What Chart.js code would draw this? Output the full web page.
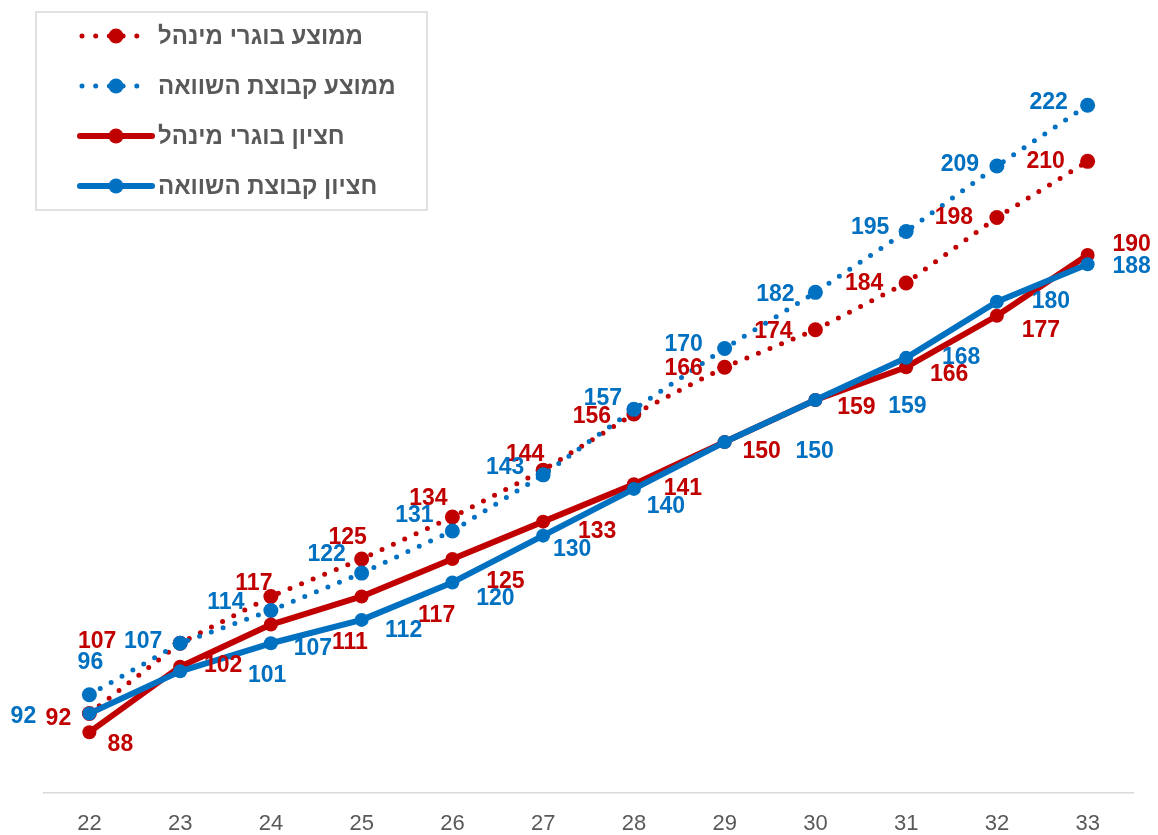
<!DOCTYPE html>
<html>
<head>
<meta charset="utf-8">
<style>
  html, body { margin: 0; padding: 0; background: #fff; }
  #wrap { width: 1158px; height: 835px; position: relative; }
</style>
</head>
<body>
<div id="wrap"><canvas id="salaryChart" width="1158" height="835"></canvas></div>

<script src="https://cdn.jsdelivr.net/npm/chart.js"></script>
<script>
    // גיל / שנים
    const ages = ['22', '23', '24', '25', '26', '27', '28', '29', '30', '31', '32', '33'];

    const avgGrads = [92, 107, 117, 125, 134, 144, 156, 166, 174, 184, 198, 210];   // ממוצע בוגרי מינהל
    const avgCompare = [96, 107, 114, 122, 131, 143, 157, 170, 182, 195, 209, 222]; // ממוצע קבוצת השוואה
    const medGrads = [88, 102, 111, 117, 125, 133, 141, 150, 159, 166, 177, 190];   // חציון בוגרי מינהל
    const medCompare = [92, 101, 107, 112, 120, 130, 140, 150, 159, 168, 180, 188]; // חציון קבוצת השוואה

    const seriesNames = ['ממוצע בוגרי מינהל', 'ממוצע קבוצת השוואה', 'חציון בוגרי מינהל', 'חציון קבוצת השוואה'];

    const RED = '#C00000';
    const BLUE = '#0070C0';
    const GRAY = '#595959';

    // הזזת התוויות ביחס לנקודה (פיקסלים), כדי שלא יעלו אחת על השנייה
    const labelShift = [
        [[-31, 5], [-83, -2], [-17, -13], [-14, -21], [-24, -18], [-18, -16], [-42, 3], [-41, 1], [-42, 2], [-42, 1], [-43, 0], [-42, 0]],
        [[1, -32], [-37, -2], [-45, -8], [-35, -18], [-38, -15], [-38, -7], [-31, -11], [-41, -4], [-40, 2], [-36, -4], [-37, -1], [-39, -3]],
        [[31, 12], [43, -1], [79, 18], [75, 19], [53, 23], [54, 10], [49, 4], [37, 10], [41, 8], [43, 7], [44, 15], [44, -10]],
        [[-66, 3], [87, 4], [42, 5], [42, 11], [43, 16], [29, 14], [32, 18], [90, 10], [92, 7], [55, 0], [54, 0], [44, 2]]
    ];

    const valueLabels = {
        id: 'valueLabels',
        afterDatasetsDraw(chart) {
            const ctx = chart.ctx;
            ctx.save();
            ctx.font = 'bold 23px "Liberation Sans", Arial, sans-serif';
            ctx.textAlign = 'center';
            ctx.textBaseline = 'middle';
            chart.data.datasets.forEach((ds, i) => {
                const meta = chart.getDatasetMeta(i);
                ctx.fillStyle = ds.borderColor;
                meta.data.forEach((pt, j) => {
                    const s = labelShift[i][j];
                    ctx.fillText(String(ds.data[j]), pt.x + s[0], pt.y + s[1]);
                });
            });
            ctx.restore();
        }
    };

    // מקרא בצד שמאל למעלה
    const boxLegend = {
        id: 'boxLegend',
        afterDraw(chart) {
            const ctx = chart.ctx;
            ctx.save();
            ctx.fillStyle = '#fff';
            ctx.fillRect(36, 12, 391, 198);
            ctx.strokeStyle = '#d9d9d9';
            ctx.lineWidth = 1.5;
            ctx.strokeRect(36, 12, 391, 198);

            chart.data.datasets.forEach((ds, i) => {
                const y = 36 + i * 50;
                const dotted = ds.borderDash && ds.borderDash.length;
                ctx.strokeStyle = ds.borderColor;
                ctx.lineCap = 'round';
                ctx.beginPath();
                if (dotted) {
                    ctx.lineWidth = 5;
                    ctx.setLineDash([0, 13.7]);
                    ctx.moveTo(82, y);
                    ctx.lineTo(138, y);
                } else {
                    ctx.lineWidth = 6;
                    ctx.setLineDash([]);
                    ctx.moveTo(80, y);
                    ctx.lineTo(152, y);
                }
                ctx.stroke();
                ctx.setLineDash([]);
                ctx.fillStyle = ds.borderColor;
                ctx.beginPath();
                ctx.arc(116, y, 7.5, 0, Math.PI * 2);
                ctx.fill();

                ctx.fillStyle = GRAY;
                ctx.font = 'bold 24px "Liberation Sans", Arial, sans-serif';
                ctx.direction = 'rtl';
                ctx.textAlign = 'left';
                ctx.textBaseline = 'middle';
                ctx.fillText(ds.label, 158, y + 1);
            });
            ctx.restore();
        }
    };

    function lineSet(label, data, color, dotted, order) {
        return {
            label: label,
            data: data,
            borderColor: color,
            backgroundColor: color,
            borderWidth: dotted ? 5 : 6,
            borderDash: dotted ? [0, 12.5] : [],
            borderCapStyle: 'round',
            borderJoinStyle: 'round',
            pointRadius: dotted ? 7.5 : 7,
            pointBorderWidth: 0,
            pointBackgroundColor: color,
            tension: 0,
            fill: false,
            order: order
        };
    }

    new Chart(document.getElementById('salaryChart'), {
        type: 'line',
        data: {
            labels: ages,
            datasets: [
                lineSet(seriesNames[0], avgGrads, RED, true, 4),
                lineSet(seriesNames[1], avgCompare, BLUE, true, 3),
                lineSet(seriesNames[2], medGrads, RED, false, 2),
                lineSet(seriesNames[3], medCompare, BLUE, false, 1)
            ]
        },
        options: {
            responsive: false,
            animation: false,
            layout: { padding: { left: 44, right: 25, top: 21, bottom: 0 } },
            plugins: {
                legend: { display: false },
                tooltip: { enabled: false }
            },
            scales: {
                x: {
                    offset: true,
                    grid: { display: false, drawTicks: false },
                    border: { display: true, color: '#d9d9d9', width: 1.5 },
                    ticks: {
                        color: GRAY,
                        padding: 18,
                        font: { family: '"Liberation Sans", Arial, sans-serif', size: 22 }
                    },
                    afterFit(scale) {
                        scale.height = 42;
                    }
                },
                y: {
                    display: false,
                    min: 75,
                    max: 240
                }
            }
        },
        plugins: [valueLabels, boxLegend]
    });
</script>
</body>
</html>
